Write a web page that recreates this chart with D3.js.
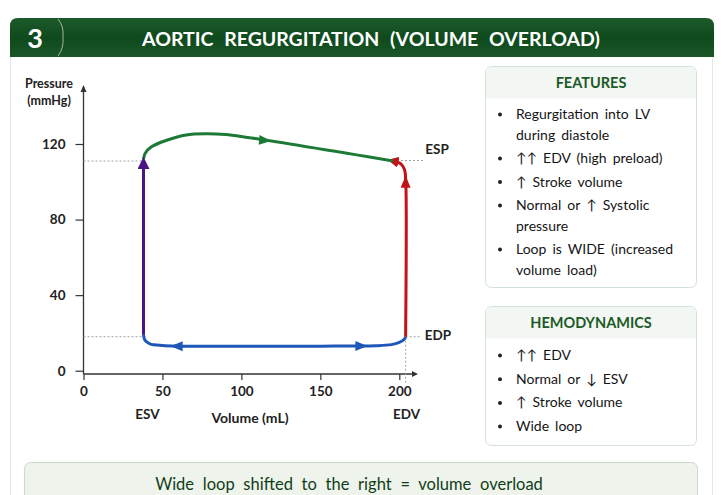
<!DOCTYPE html>
<html><head><meta charset="utf-8">
<script src="https://cdn.jsdelivr.net/npm/d3@7"></script>
<style>
body{margin:0;background:#fff;}
svg{display:block;font-family:Lato,"Open Sans",sans-serif;}
</style></head>
<body>
<script>
// ---- data ----
const xTicks = [0, 50, 100, 150, 200];
const yTicks = [0, 40, 80, 120];
const ESV = 38, EDV = 204, EDP = 18, ESP = 111;
const filling = [[38,19],[39,16],[42,14.2],[50,13.3],[60,13],[100,13],[150,13],[185,13.2],[195,13.8],[200,15],[203,16.5],[204,18]];
const isoContraction = [[204,18],[204,102],[203.3,106.5],[201,109.5],[196,111]];
const ejection = [[38,112],[39,115],[43,118.5],[52.7,122],[65,124.8],[78,125.4],[90,125],[100,124],[196,111]];
const isoRelaxation = [[38,19],[38,110]];
const featureLines = [["Regurgitation into LV","during diastole"],["↑↑ EDV (high preload)"],["↑ Stroke volume"],["Normal or ↑ Systolic","pressure"],["Loop is WIDE (increased","volume load)"]];
const hemoLines = ["↑↑ EDV","Normal or ↓ ESV","↑ Stroke volume","Wide loop"];
const title = "AORTIC REGURGITATION (VOLUME OVERLOAD)";
const footer = "Wide loop shifted to the right = volume overload";

const W = 723, H = 495;
const svg = d3.select("body").append("svg").attr("width", W).attr("height", H);
const defs = svg.append("defs");
const grad = defs.append("linearGradient").attr("id","hg").attr("x1",0).attr("y1",0).attr("x2",0).attr("y2",1);
grad.append("stop").attr("offset","0%").attr("stop-color","#1d5a2a");
grad.append("stop").attr("offset","50%").attr("stop-color","#0f4a1d");
grad.append("stop").attr("offset","100%").attr("stop-color","#1a5628");

function marker(id, color, size){
  defs.append("marker").attr("id",id).attr("viewBox","0 0 10 10").attr("refX",5).attr("refY",5)
    .attr("markerWidth",size).attr("markerHeight",size).attr("orient","auto-start-reverse").attr("markerUnits","userSpaceOnUse")
    .append("path").attr("d","M0,0 L10,5 L0,10 Z").attr("fill",color);
}
const cGreen="#1c7a36", cBlue="#1f57b8", cRed="#c01418", cPurple="#4a1585";
marker("mg",cGreen,11); marker("mb",cBlue,11); marker("mr",cRed,11); marker("mp",cPurple,12);

// outer card
svg.append("rect").attr("x",10.5).attr("y",40).attr("width",702).attr("height",470).attr("rx",8)
  .attr("fill","#fff").attr("stroke","#dfe9ee");
// header
svg.append("path").attr("d","M10,57 L10,26 Q10,18 18,18 L706,18 Q714,18 714,26 L714,57 Z").attr("fill","url(#hg)");
svg.append("path").attr("d","M58,19 Q64,26 63,37 Q64,48 58,56").attr("fill","none").attr("stroke","#9fb8a3").attr("stroke-width",1);
svg.append("text").attr("x",35).attr("y",48).attr("text-anchor","middle").attr("fill","#fff")
  .attr("font-size",27).attr("font-weight",700).text("3");
svg.append("text").attr("x",371).attr("y",46).attr("text-anchor","middle").attr("fill","#fff")
  .attr("font-size",19.5).attr("font-weight",700).attr("word-spacing","6px").text(title);

// ---- chart ----
const x = d3.scaleLinear().domain([0,200]).range([83.5,399.3]);
const y = d3.scaleLinear().domain([0,120]).range([370.7,144]);
const axisY = 374;
const g = svg.append("g");

const axisCol = "#333";
g.append("line").attr("x1",x(0)).attr("x2",x(0)).attr("y1",axisY).attr("y2",90).attr("stroke",axisCol).attr("stroke-width",1.3);
g.append("path").attr("d",`M${x(0)-3},${92} L${x(0)},${85} L${x(0)+3},${92}`).attr("fill",axisCol);
g.append("line").attr("x1",x(0)).attr("x2",414).attr("y1",axisY).attr("y2",axisY).attr("stroke",axisCol).attr("stroke-width",1.3);
g.append("path").attr("d",`M412,${axisY-3} L418,${axisY} L412,${axisY+3}`).attr("fill",axisCol);

const yAxis = d3.axisLeft(y).tickValues(yTicks).tickSize(8).tickPadding(10);
const ya = g.append("g").attr("transform",`translate(${x(0)},0)`).call(yAxis);
ya.select(".domain").remove();
ya.selectAll(".tick line").attr("stroke",axisCol).attr("stroke-width",1.2);
ya.selectAll(".tick text").attr("font-size",13.5).attr("font-weight",700).attr("fill","#222").attr("font-family","Lato,sans-serif");
const xAxis = d3.axisBottom(x).tickValues(xTicks).tickSize(6).tickPadding(6);
const xa = g.append("g").attr("transform",`translate(0,${axisY})`).call(xAxis);
xa.select(".domain").remove();
xa.selectAll(".tick line").attr("stroke",axisCol).attr("stroke-width",1.2);
xa.selectAll(".tick text").attr("font-size",13.5).attr("font-weight",700).attr("fill","#222").attr("font-family","Lato,sans-serif");

const lab = (t,xx,yy,fs)=>g.append("text").attr("x",xx).attr("y",yy).attr("text-anchor","middle").attr("font-size",fs).attr("font-weight",700).attr("fill","#222").text(t);
lab("Pressure",49,88,12.5);
lab("(mmHg)",49,105,12.5);
lab("Volume (mL)",250,423,14);
lab("ESV",x(ESV)+4,419,13.5);
lab("EDV",x(EDV)+1,419,13.5);
lab("ESP",437,154,13.5);
lab("EDP",438,340,13.5);

const dash = (x1,y1,x2,y2)=>g.append("line").attr("x1",x1).attr("y1",y1).attr("x2",x2).attr("y2",y2)
  .attr("stroke","#9a9a9a").attr("stroke-width",0.9).attr("stroke-dasharray","2,2");
dash(x(0),y(ESP),x(ESV),y(ESP));
dash(x(0),y(EDP),x(ESV),y(EDP));
dash(x(196),y(ESP)-0.5,423,y(ESP)-0.5);
dash(x(EDV),y(EDP),421,y(EDP));
dash(x(EDV),y(EDP),x(EDV),384);

const cr = d3.line().x(d=>x(d[0])).y(d=>y(d[1])).curve(d3.curveCatmullRom);
g.append("path").datum(filling).attr("d",cr).attr("fill","none").attr("stroke",cBlue).attr("stroke-width",3);
g.append("path").datum(isoContraction).attr("d",cr).attr("fill","none").attr("stroke",cRed).attr("stroke-width",3).attr("marker-end","url(#mr)");
g.append("path").datum(ejection).attr("d",cr).attr("fill","none").attr("stroke",cGreen).attr("stroke-width",3);
g.append("path").datum(isoRelaxation).attr("d",d3.line().x(d=>x(d[0])).y(d=>y(d[1]))).attr("fill","none").attr("stroke",cPurple).attr("stroke-width",3).attr("marker-end","url(#mp)");

function midArrow(p, angle, color){
  g.append("path").attr("d","M-6,-5 L6,0 L-6,5 Z").attr("fill",color)
    .attr("transform",`translate(${x(p[0])},${y(p[1])}) rotate(${angle})`);
}
midArrow([59,13],180,cBlue);
midArrow([176,13.1],0,cBlue);
midArrow([115,121.9],5,cGreen);
midArrow([204,100],-90,cRed);

// ---- right panels ----
function panel(px,py,pw,ph,head,hh){
  svg.append("rect").attr("x",px).attr("y",py).attr("width",pw).attr("height",ph).attr("rx",6)
    .attr("fill","#fff").attr("stroke","#d3e2d6");
  svg.append("path").attr("d",`M${px+0.5},${py+hh} L${px+0.5},${py+6} Q${px+0.5},${py+0.5} ${px+6},${py+0.5} L${px+pw-6},${py+0.5} Q${px+pw-0.5},${py+0.5} ${px+pw-0.5},${py+6} L${px+pw-0.5},${py+hh} Z`).attr("fill","#f3f7f3");
  svg.append("text").attr("x",px+pw/2).attr("y",py+21).attr("text-anchor","middle").attr("fill","#1d5a27")
    .attr("font-size",14.5).attr("font-weight",700).text(head);
}
panel(485.5,66.5,211,221,"FEATURES",32);
let yy = 119;
const lh = 20.5, gap = 3;
featureLines.forEach(item=>{
  svg.append("circle").attr("cx",500).attr("cy",yy-4.5).attr("r",2).attr("fill","#222");
  item.forEach((t,i)=>{
    svg.append("text").attr("x",516).attr("y",yy).attr("font-size",14).attr("fill","#151515").attr("word-spacing","2.5px").text(t);
    yy += (i<item.length-1)? lh : 0;
  });
  yy += lh + gap;
});
panel(485.5,306.5,211,139,"HEMODYNAMICS",32);
hemoLines.forEach((t,i)=>{
  const yb = 360 + i*23.7;
  svg.append("circle").attr("cx",500).attr("cy",yb-4.5).attr("r",2).attr("fill","#222");
  svg.append("text").attr("x",516).attr("y",yb).attr("font-size",14).attr("fill","#151515").attr("word-spacing","2.5px").text(t);
});

// footer banner
svg.append("rect").attr("x",24.5).attr("y",462.5).attr("width",673).attr("height",50).attr("rx",6)
  .attr("fill","#eef4ec").attr("stroke","#c9dccb");
svg.append("text").attr("x",349).attr("y",490).attr("text-anchor","middle").attr("font-size",16.5).attr("fill","#123d19")
  .attr("word-spacing","4.5px").text(footer);
</script>
</body></html>
